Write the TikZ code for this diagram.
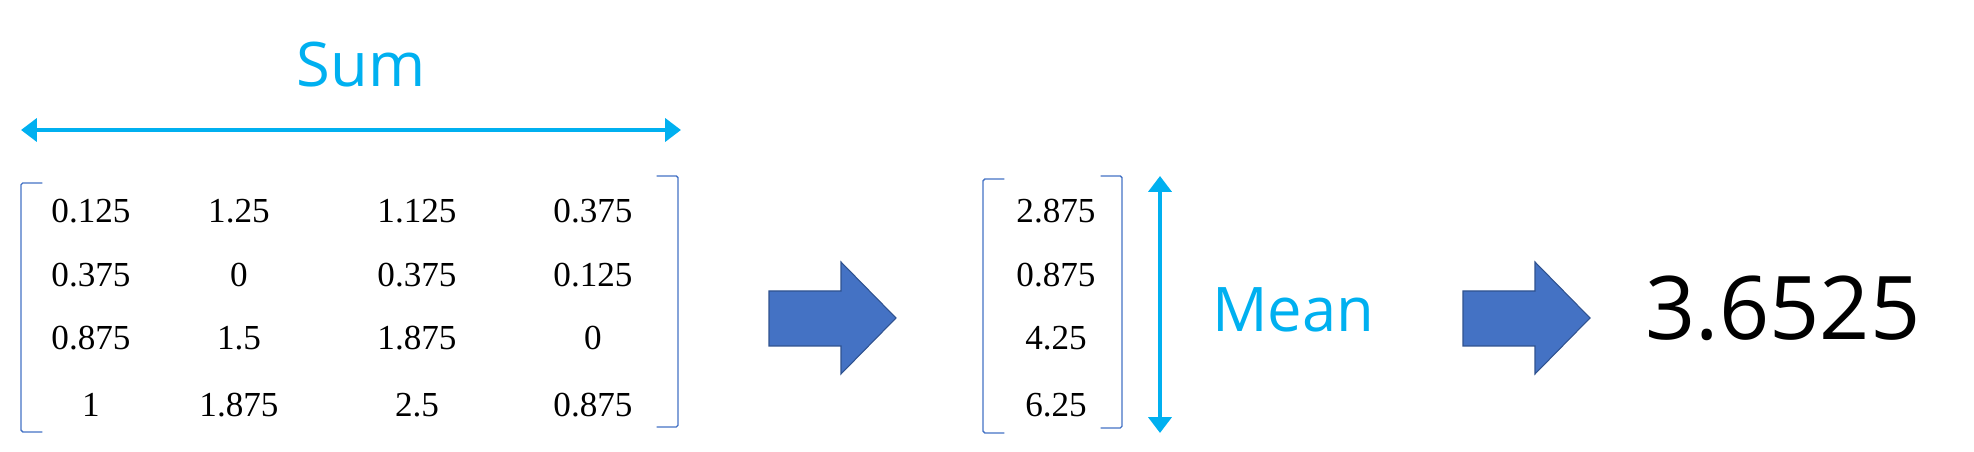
\documentclass[tikz,border=0pt]{standalone}
\usepackage{fontspec}
\setmainfont{Liberation Serif}
\newfontfamily\labelfont{Open Sans}
\usetikzlibrary{arrows.meta}
\definecolor{opblue}{HTML}{00B0F0}
\definecolor{brackblue}{HTML}{4472C4}
\definecolor{arrowedge}{HTML}{2F528F}

\begin{document}
\begin{tikzpicture}[font=\fontsize{20}{24}\selectfont,line cap=round]
\tikzset{
  entry/.style={inner sep=0pt},
  bracket/.style={brackblue,line width=0.8pt,rounded corners=1pt},
  measure/.style={opblue,line width=2.8pt,line cap=butt,{Triangle[length=9pt,width=13pt]}-{Triangle[length=9pt,width=13pt]}},
  opname/.style={opblue,font=\labelfont\fontsize{35}{40}\selectfont,anchor=base,inner sep=0pt},
  blockarrow/.style={fill=brackblue,draw=arrowedge,line width=0.6pt,line join=miter},
}
\useasboundingbox (0,0) rectangle (39.48,9.04);
% sum over the rows
\node[opname] (sumlbl) at (7.22,7.30) {Sum};
\coordinate (sl) at (0.42,6.44);
\coordinate (sr) at (13.62,6.44);
\draw[measure] (sl) -- (sr);
% matrix
\draw[bracket] (0.84,5.38) -- (0.42,5.38) -- (0.42,0.40) -- (0.84,0.40);
\draw[bracket] (13.14,5.52) -- (13.56,5.52) -- (13.56,0.50) -- (13.14,0.50);
\node[entry] (m11) at (1.82,4.82) {0.125};
\node[entry] (m12) at (4.78,4.82) {1.25};
\node[entry] (m13) at (8.34,4.82) {1.125};
\node[entry] (m14) at (11.86,4.82) {0.375};
\node[entry] (m21) at (1.82,3.54) {0.375};
\node[entry] (m22) at (4.78,3.54) {0};
\node[entry] (m23) at (8.34,3.54) {0.375};
\node[entry] (m24) at (11.86,3.54) {0.125};
\node[entry] (m31) at (1.82,2.28) {0.875};
\node[entry] (m32) at (4.78,2.28) {1.5};
\node[entry] (m33) at (8.34,2.28) {1.875};
\node[entry] (m34) at (11.86,2.28) {0};
\node[entry] (m41) at (1.82,0.94) {1};
\node[entry] (m42) at (4.78,0.94) {1.875};
\node[entry] (m43) at (8.34,0.94) {2.5};
\node[entry] (m44) at (11.86,0.94) {0.875};
% first step
\filldraw[blockarrow] (15.38,3.22) -- (16.82,3.22) -- (16.82,3.80) -- (17.92,2.68)
  -- (16.82,1.56) -- (16.82,2.12) -- (15.38,2.12) -- cycle;
% vector of row sums
\draw[bracket] (20.08,5.46) -- (19.66,5.46) -- (19.66,0.38) -- (20.08,0.38);
\draw[bracket] (22.02,5.52) -- (22.44,5.52) -- (22.44,0.48) -- (22.02,0.48);
\node[entry] (v1) at (21.12,4.82) {2.875};
\node[entry] (v2) at (21.12,3.54) {0.875};
\node[entry] (v3) at (21.12,2.28) {4.25};
\node[entry] (v4) at (21.12,0.94) {6.25};
\coordinate (mt) at (23.20,5.52);
\coordinate (mb) at (23.20,0.38);
\draw[measure] (mt) -- (mb);
\node[opname] (meanlbl) at (25.86,2.40) {Mean};
% second step
\filldraw[blockarrow] (29.26,3.22) -- (30.70,3.22) -- (30.70,3.80) -- (31.80,2.68)
  -- (30.70,1.56) -- (30.70,2.12) -- (29.26,2.12) -- cycle;
\node[anchor=base,inner sep=0pt,font=\labelfont\fontsize{50}{56}\selectfont] (res) at (35.66,2.24) {3.6525};
\end{tikzpicture}
\end{document}
